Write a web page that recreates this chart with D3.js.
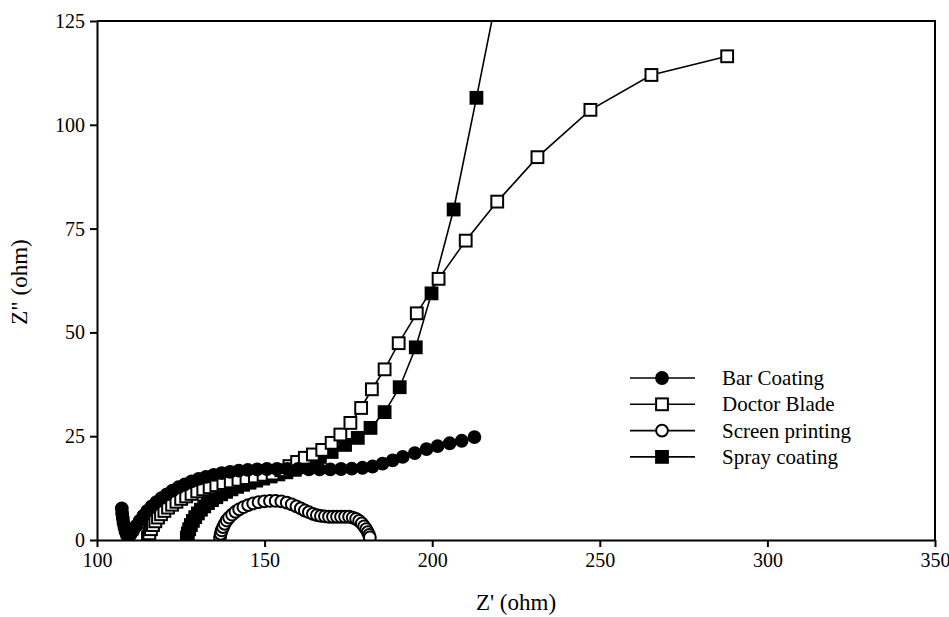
<!DOCTYPE html>
<html>
<head>
<meta charset="utf-8">
<script src="https://cdn.jsdelivr.net/npm/d3@7"></script>
<style>
  body { margin: 0; background: #fff; }
  text { font-family: "Liberation Serif", "Times New Roman", serif; fill: #000; }
</style>
</head>
<body>
<div id="chart"></div>
<script>
// Nyquist plot data: [Z', Z'']
var barCoating = [
  [107.4,7.6],[107.5,6.4],[107.7,5.2],[107.9,4.1],[108.2,3.0],[108.5,2.0],[108.9,1.2],[109.4,0.9],
  [110.0,1.3],[110.8,2.2],[111.7,3.4],[112.7,4.6],[113.8,5.8],[115.0,7.0],[116.3,8.1],[117.7,9.1],
  [119.2,10.1],[120.8,11.0],[122.5,11.9],[124.3,12.7],[126.2,13.4],[128.2,14.1],[130.3,14.7],
  [132.5,15.2],[134.8,15.7],[137.2,16.1],[139.7,16.4],[142.3,16.7],[145.0,16.9],[147.8,17.0],
  [150.7,17.1],[153.7,17.1],[156.8,17.1],[160.0,17.1],[163.2,17.0],[166.4,17.0],[169.6,17.0],
  [172.8,17.1],[176.0,17.2],[179.2,17.4],[182.2,17.7],[185.2,18.4],[188.2,19.2],[191.2,20.0],
  [194.8,20.9],[198.3,21.9],[201.6,22.6],[205.2,23.3],[208.8,23.9],[212.6,24.8]
];
var doctorBlade = [
  [115.2,0.6],[115.6,1.6],[116.1,2.6],[116.7,3.6],[117.4,4.5],[118.2,5.4],[119.1,6.2],[120.1,7.0],
  [121.2,7.8],[122.4,8.5],[123.7,9.2],[125.1,9.9],[126.6,10.5],[128.2,11.1],[129.9,11.7],
  [131.7,12.2],[133.6,12.7],[135.6,13.2],[137.7,13.7],[139.9,14.1],[142.2,14.5],[144.6,14.9],
  [147.1,15.3],[149.7,15.7],[152.4,16.0],[155.0,16.8],[157.4,17.8],[159.7,18.8],[162.0,19.8],
  [164.4,20.6],[167.2,21.7],[170.0,23.4],[172.6,25.4],[175.6,28.2],[178.8,31.8],[182.0,36.3],
  [185.8,41.1],[190.0,47.4],[195.4,54.6],[201.9,62.9],[210.0,72.1],[219.4,81.5],[231.4,92.2],
  [247.2,103.6],[265.4,112.0],[288.0,116.5]
];
var screenPrinting = [
  [136.7,0.7],[136.9,1.5],[137.2,2.3],[137.6,3.1],[138.1,3.9],[138.7,4.7],[139.4,5.4],[140.3,6.1],
  [141.3,6.8],[142.4,7.4],[143.7,7.9],[145.1,8.4],[146.6,8.8],[148.2,9.1],[149.9,9.3],[151.6,9.4],
  [153.3,9.4],[155.0,9.3],[156.6,9.0],[158.1,8.6],[159.5,8.1],[160.8,7.6],[162.0,7.1],[163.2,6.7],
  [164.4,6.3],[165.6,6.0],[166.8,5.8],[168.0,5.7],[169.2,5.6],[170.4,5.6],[171.6,5.6],[172.8,5.6],
  [174.0,5.6],[175.2,5.6],[176.3,5.4],[177.3,5.1],[178.2,4.6],[179.0,4.0],[179.7,3.3],[180.3,2.6],
  [180.8,1.9],[181.2,1.2],[181.4,0.6]
];
var sprayCoating = [
  [126.8,0.6],[127.1,1.6],[127.5,2.6],[128.0,3.6],[128.6,4.6],[129.3,5.5],[130.1,6.4],[131.0,7.3],
  [132.0,8.1],[133.1,8.9],[134.3,9.6],[135.6,10.3],[137.0,11.0],[138.5,11.6],[140.1,12.2],
  [141.8,12.8],[143.6,13.3],[145.5,13.8],[147.5,14.3],[149.6,14.8],[151.8,15.3],[154.1,15.8],
  [156.5,16.3],[159.0,16.9],[161.5,17.6],[164.0,18.6],[166.5,20.0],[170.0,21.2],[174.0,22.9],
  [177.8,24.6],[181.6,27.0],[185.8,30.8],[190.3,36.8],[195.1,46.4],[199.8,59.4],[206.4,79.6],
  [213.2,106.5],[221.0,138.0]
];

var xTicks = [100, 150, 200, 250, 300, 350];
var yTicks = [0, 25, 50, 75, 100, 125];
var seriesNames = ["Bar Coating", "Doctor Blade", "Screen printing", "Spray coating"];

// 描画設定
var W = 949, H = 617;
var m = {left: 97, right: 14, top: 21, bottom: 77};

var x = d3.scaleLinear().domain([100, 350]).range([m.left, W - m.right]);
var y = d3.scaleLinear().domain([0, 125]).range([H - m.bottom, m.top]);

var svg = d3.select("#chart").append("svg").attr("width", W).attr("height", H);

svg.append("defs").append("clipPath").attr("id", "plotclip")
  .append("rect")
  .attr("x", x(100)).attr("y", y(125))
  .attr("width", x(350) - x(100)).attr("height", y(0) - y(125));

// 枠線 (top / right)
svg.append("path")
  .attr("d", "M" + x(100) + "," + y(125) + "H" + x(350) + "V" + y(0))
  .attr("fill", "none").attr("stroke", "#000").attr("stroke-width", 2);

var series = [
  {name: seriesNames[3], data: sprayCoating, shape: "square", fill: "#000"},
  {name: seriesNames[1], data: doctorBlade, shape: "square", fill: "#fff"},
  {name: seriesNames[0], data: barCoating, shape: "circle", fill: "#000"},
  {name: seriesNames[2], data: screenPrinting, shape: "circle", fill: "#fff"}
];

var line = d3.line().x(function(d){return x(d[0]);}).y(function(d){return y(d[1]);});
var plot = svg.append("g").attr("clip-path", "url(#plotclip)");

function drawMarker(g, shape, fill, cx, cy) {
  if (shape == "circle") {
    g.append("circle").attr("cx", cx).attr("cy", cy).attr("r", 5.9)
      .attr("fill", fill).attr("stroke", "#000").attr("stroke-width", 2);
  } else {
    g.append("rect").attr("x", cx - 5.9).attr("y", cy - 5.9)
      .attr("width", 11.8).attr("height", 11.8)
      .attr("fill", fill).attr("stroke", "#000").attr("stroke-width", 2);
  }
}

series.forEach(function(s){
  var g = plot.append("g");
  g.append("path").datum(s.data).attr("d", line)
    .attr("fill", "none").attr("stroke", "#000").attr("stroke-width", 1.6);
  s.data.forEach(function(d){ drawMarker(g, s.shape, s.fill, x(d[0]), y(d[1])); });
});

// 軸
var xAxis = svg.append("g").attr("transform", "translate(0," + y(0) + ")")
  .call(d3.axisBottom(x).tickValues(xTicks).tickSize(7).tickSizeOuter(0).tickPadding(6));
var yAxis = svg.append("g").attr("transform", "translate(" + x(100) + ",0)")
  .call(d3.axisLeft(y).tickValues(yTicks).tickSize(7).tickSizeOuter(0).tickPadding(5));

[xAxis, yAxis].forEach(function(a){
  a.attr("font-family", null);
  a.select(".domain").attr("stroke-width", 2);
  a.selectAll(".tick line").attr("stroke-width", 2);
  a.selectAll(".tick text").style("font-size", "20px");
});

svg.append("text").attr("x", 516).attr("y", 610).attr("text-anchor", "middle")
  .style("font-size", "23px").text("Z' (ohm)");
svg.append("text").attr("transform", "translate(27,282) rotate(-90)").attr("text-anchor", "middle")
  .style("font-size", "23px").text('Z" (ohm)');

// 凡例
var legendOrder = [
  {name: seriesNames[0], shape: "circle", fill: "#000"},
  {name: seriesNames[1], shape: "square", fill: "#fff"},
  {name: seriesNames[2], shape: "circle", fill: "#fff"},
  {name: seriesNames[3], shape: "square", fill: "#000"}
];
var legend = svg.append("g");
legendOrder.forEach(function(s, i){
  var ly = 378 + i * 26.3;
  legend.append("line").attr("x1", 630).attr("x2", 695).attr("y1", ly).attr("y2", ly)
    .attr("stroke", "#000").attr("stroke-width", 1.6);
  drawMarker(legend, s.shape, s.fill, 662, ly);
  legend.append("text").attr("x", 722).attr("y", ly + 7).style("font-size", "21px").text(s.name);
});
</script>
</body>
</html>
